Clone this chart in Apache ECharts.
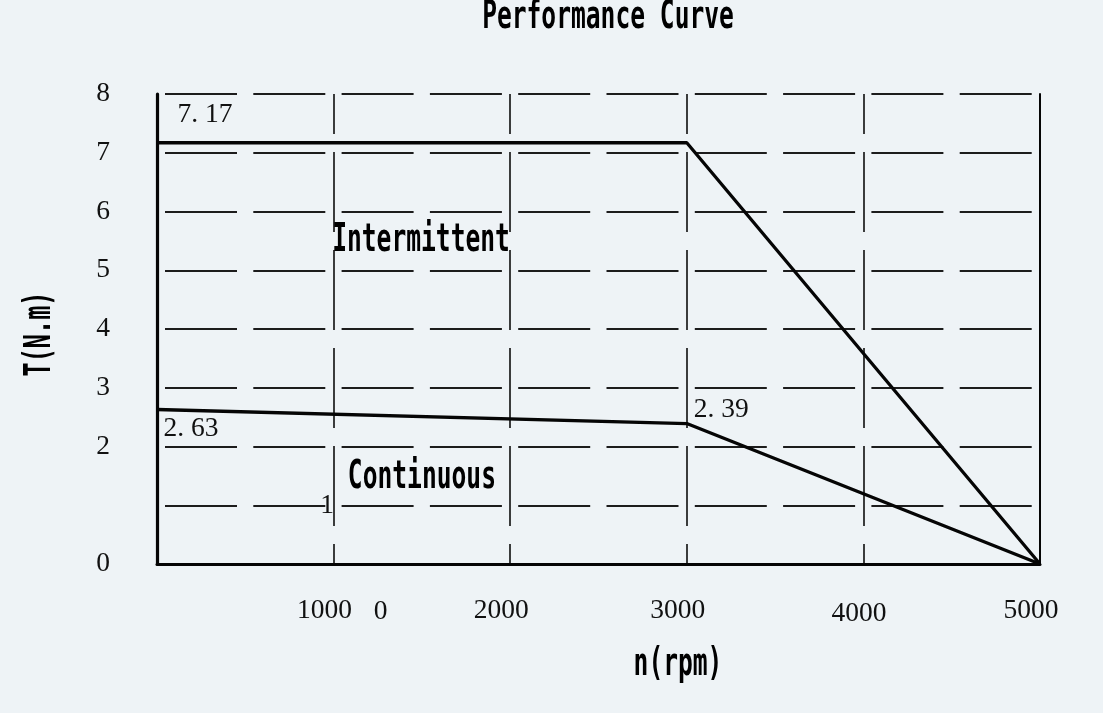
<!DOCTYPE html>
<html>
<head>
<meta charset="utf-8">
<title>Performance Curve</title>
<script src="https://cdn.jsdelivr.net/npm/echarts@6/dist/echarts.min.js"></script>
<style>
  html, body { margin: 0; padding: 0; background: #eef3f6; }
  #main { width: 1103px; height: 713px; }
</style>
</head>
<body>
<div id="main"></div>
<script>
// data
const speed = [0, 3000, 5000]                 // n (rpm)
const intermittentTorque = [7.17, 7.17, 0]    // T (N.m)
const continuousTorque = [2.63, 2.39, 0]
const xTickLabels = ['', '1000', '2000', '3000', '4000', '5000']
const yTickLabels = ['0', '', '2', '3', '4', '5', '6', '7', '8']

// tick labels that sit away from their ticks in the original
const strayText = ['0', '1']
const strayX = [1266, 963]
const strayY = [-0.82, 0.99]

// region names, placed in data space
const regionNames = ['Intermittent', 'Continuous']
const regionX = [1495, 1500]
const regionY = [5.5, 1.46]

const numFont = 'Liberation Serif'
const condensed = 'bold 24.6px "DejaVu Sans Mono"'
const ink = '#050505'

const chart = echarts.init(document.getElementById('main'))

// value labels: [x, y, offsetY, distance]
const valuePoints = [
    [speed[0], intermittentTorque[0], -28, 20],
    [speed[0], continuousTorque[0], 19, 6],
    [speed[1], continuousTorque[1], -14, 6.5]
]

var option = {
    backgroundColor: '#eef3f6',
    animation: false,
    grid: { left: 157, right: 63, top: 94, bottom: 149 },
    xAxis: {
        type: 'value',
        min: 0,
        max: 5000,
        interval: 1000,
        axisLine: { lineStyle: { color: ink, width: 3 } },
        axisTick: { show: false },
        axisLabel: {
            showMinLabel: true,
            margin: 33,
            fontFamily: numFont,
            fontSize: 27.5,
            color: '#111',
            formatter: function (v) {
                const t = xTickLabels[Math.round(v / 1000)]
                if (!t) return ''
                return v === 4000 ? '{b|' + t + '}' : '{a|' + t + '}'
            },
            rich: {
                a: { fontFamily: numFont, fontSize: 27.5, color: '#111', padding: [0, 18, 0, 0] },
                b: { fontFamily: numFont, fontSize: 27.5, color: '#111', padding: [3, 9, 0, 0] }
            }
        },
        splitLine: {
            show: true,
            lineStyle: { color: '#1c1c1c', width: 1.7, type: [80, 18], dashOffset: 40 }
        }
    },
    yAxis: [{
        type: 'value',
        min: 0,
        max: 8,
        interval: 1,
        axisLine: { show: true, lineStyle: { color: ink, width: 3.2 } },
        axisTick: { show: false },
        axisLabel: {
            margin: 47,
            fontFamily: numFont,
            fontSize: 27.5,
            color: '#111',
            formatter: function (v) { return yTickLabels[Math.round(v)] }
        },
        splitLine: {
            show: true,
            lineStyle: { color: '#1c1c1c', width: 1.8, type: [72, 16.3], dashOffset: -8 }
        }
    }, {
        type: 'value',
        position: 'right',
        min: 0,
        max: 8,
        axisLine: { show: true, lineStyle: { color: ink, width: 2 } },
        axisTick: { show: false },
        axisLabel: { show: false },
        splitLine: { show: false }
    }],
    series: [{
            name: 'Intermittent',
            type: 'line',
            showSymbol: false,
            lineStyle: { color: ink, width: 3.3 },
            data: speed.map((x, i) => [x, intermittentTorque[i]])
        },
        {
            name: 'Continuous',
            type: 'line',
            showSymbol: false,
            lineStyle: { color: ink, width: 3.3 },
            data: speed.map((x, i) => [x, continuousTorque[i]])
        },
        {
            name: 'values',
            type: 'scatter',
            symbolSize: 1,
            itemStyle: { color: 'rgba(0,0,0,0)', opacity: 1 },
            data: valuePoints.map(p => ({
                value: [p[0], p[1]],
                label: {
                    show: true,
                    position: 'right',
                    distance: p[3],
                    offset: [0, p[2]],
                    fontFamily: numFont,
                    fontSize: 27.5,
                    color: '#111',
                    formatter: function (q) { return q.value[1].toFixed(2).replace('.', '. ') }
                }
            }))
        },
        {
            name: 'stray',
            type: 'scatter',
            clip: false,
            symbolSize: 1,
            itemStyle: { color: 'rgba(0,0,0,0)', opacity: 1 },
            label: {
                show: true,
                position: 'inside',
                fontFamily: numFont,
                fontSize: 27.5,
                color: '#111',
                formatter: function (q) { return strayText[q.dataIndex] }
            },
            data: strayX.map((x, i) => [x, strayY[i]])
        }
    ]
}

chart.setOption(option)

// condensed bold texts: title, axis names and region names
const tall = 1.56
const texts = [{
        type: 'text', x: 608, y: 18, scaleY: tall,
        style: { text: 'Performance Curve', font: condensed, align: 'center', verticalAlign: 'middle', fill: '#000' }
    },
    {
        type: 'text', x: 678, y: 665, scaleY: tall,
        style: { text: 'n(rpm)', font: condensed, align: 'center', verticalAlign: 'middle', fill: '#000' }
    },
    {
        type: 'text', x: 40, y: 334, scaleY: tall, rotation: Math.PI / 2,
        style: { text: 'T(N.m)', font: 'bold 23.5px "DejaVu Sans Mono"', align: 'center', verticalAlign: 'middle', fill: '#000' }
    }
]
regionNames.forEach(function (name, i) {
    const p = chart.convertToPixel({ gridIndex: 0 }, [regionX[i], regionY[i]])
    texts.push({
        type: 'text', x: p[0], y: p[1], scaleY: tall,
        style: { text: name, font: condensed, align: 'center', verticalAlign: 'middle', fill: '#000' }
    })
})

chart.setOption({ graphic: texts })
</script>
</body>
</html>
